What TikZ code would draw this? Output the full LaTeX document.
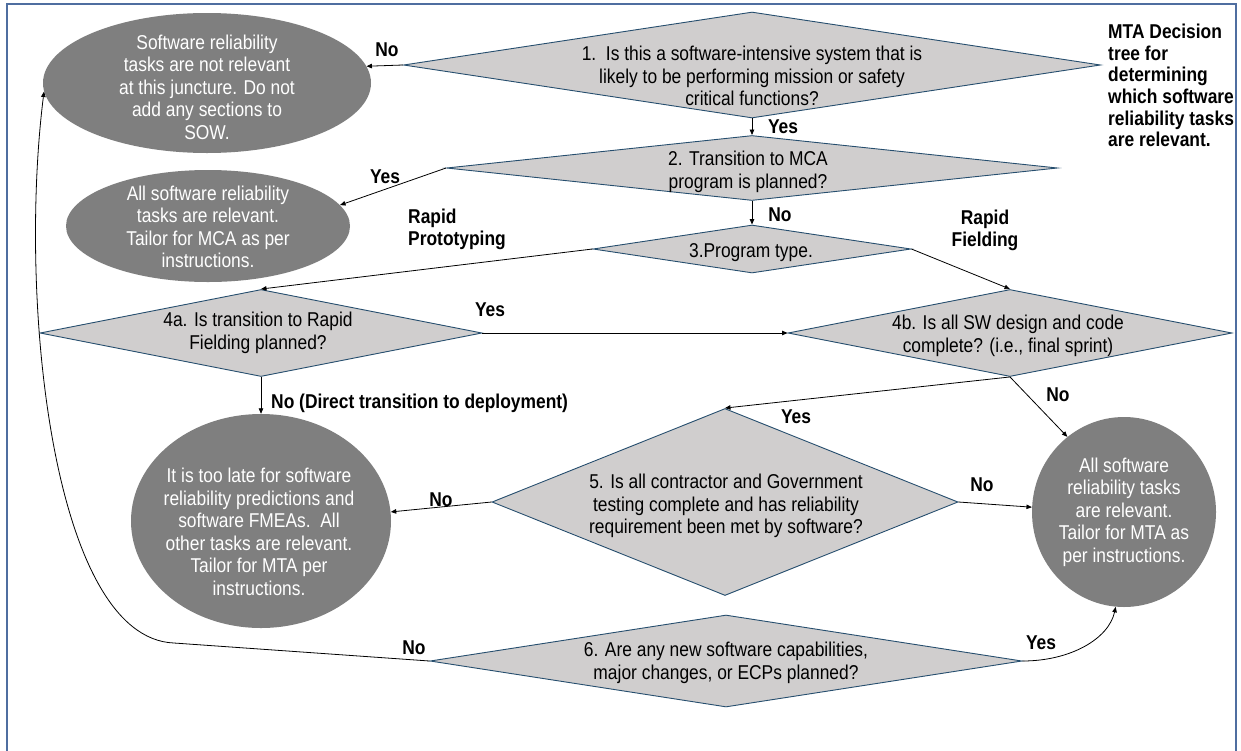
\documentclass[tikz,border=0pt]{standalone}
\usepackage{fontspec}
\setmainfont{Liberation Sans}[FakeStretch=0.87]
\usetikzlibrary{shapes.geometric,arrows.meta}
\definecolor{frameblue}{RGB}{79,110,160}
\definecolor{diafill}{RGB}{208,206,206}
\definecolor{diaedge}{RGB}{38,78,110}
\definecolor{ovalfill}{RGB}{127,127,127}

\begin{document}
\begin{tikzpicture}[x=1pt,y=-1pt,
  dia/.style={shape=diamond, draw=diaedge, fill=diafill, line width=0.9pt, inner sep=0pt},
  oval/.style={shape=ellipse, fill=ovalfill, draw=none, inner sep=0pt},
  txt/.style={align=center, inner sep=0pt, font=\fontsize{20}{22.5}\selectfont},
  wtxt/.style={txt, text=white},
  lbl/.style={inner sep=0pt, font=\bfseries\fontsize{20}{22}\selectfont},
  arr/.style={-{Triangle[length=5.5pt,width=4.5pt]}, line width=0.8pt}]

\useasboundingbox (0,0) rectangle (1241,750);
\draw[frameblue, line width=1.2pt] (7,4) rectangle (1236,780);

% decisions
\node[dia, minimum width=697pt, minimum height=106pt] (d1) at (752,65) {};
\node[dia, minimum width=611pt, minimum height=65pt] (d2) at (752,168) {};
\node[dia, minimum width=318pt, minimum height=48pt] (d3) at (752,249) {};
\node[dia, minimum width=442pt, minimum height=87pt] (d4a) at (261,333) {};
\node[dia, minimum width=444pt, minimum height=87pt] (d4b) at (1010,333) {};
\node[dia, minimum width=466pt, minimum height=187pt] (d5) at (725,502) {};
\node[dia, minimum width=592pt, minimum height=92pt] (d6) at (726,661) {};

\node[txt] (d1t) at (752,76) {1.\ \ Is this a software-intensive system that is\\likely to be performing mission or safety\\critical functions?};
\node[txt] (d2t) at (748,172) {2. Transition to MCA\\program is planned?};
\node[txt] (d3t) at (751,253) {3.Program type.};
\node[txt] (d4at) at (258,333) {4a. Is transition to Rapid\\Fielding planned?};
\node[txt] (d4bt) at (1008,336) {4b. Is all SW design and code\\complete? (i.e., final sprint)};
\node[txt] (d5t) at (726,506) {5. Is all contractor and Government\\testing complete and has reliability\\requirement been met by software?};
\node[txt] (d6t) at (726,663) {6. Are any new software capabilities,\\major changes, or ECPs planned?};

% outcomes
\node[oval, minimum width=328pt, minimum height=140pt] (e1) at (207,83) {};
\node[oval, minimum width=284pt, minimum height=112pt] (e2) at (208,226) {};
\node[oval, minimum width=260pt, minimum height=214pt] (e3) at (261,521) {};
\node[oval, minimum width=184pt, minimum height=190pt] (e4) at (1124,512) {};

\node[wtxt] (e1t) at (207,87) {Software reliability\\tasks are not relevant\\at this juncture. Do not\\add any sections to\\SOW.};
\node[wtxt] (e2t) at (208,227) {All software reliability\\tasks are relevant.\\Tailor for MCA as per\\instructions.};
\node[wtxt] (e3t) at (259,532) {It is too late for software\\reliability predictions and\\software FMEAs.\ \ All\\other tasks are relevant.\\Tailor for MTA per\\instructions.};
\node[wtxt] (e4t) at (1124,512) {All software\\reliability tasks\\are relevant.\\Tailor for MTA as\\per instructions.};

% title
\node[lbl, align=left, anchor=north west, font=\bfseries\fontsize{20}{21.6}\selectfont] (title) at (1108,24) {MTA Decision\\tree for\\determining\\which software\\reliability tasks\\are relevant.};

% connectors
\draw[arr] (d1.west) -- (e1.6);
\draw[arr] (d1.south) -- (d2.north);
\draw[arr] (d2.west) -- (e2.9);
\draw[arr] (d2.south) -- (d3.north);
\draw[arr] (d3.west) -- (d4a.north);
\draw[arr] (d3.east) -- (d4b.north);
\draw[arr] (d4a.east) -- (d4b.west);
\draw[arr] (d4a.south) -- (e3.north);
\draw[arr] (d4b.south) -- (d5.north);
\draw[arr] (d4b.south) -- (e4.127);
\draw[arr] (d5.west) -- (e3.4);
\draw[arr] (d5.east) -- (e4.177);
\draw[arr] (d6.east) .. controls +(48,0) and +(-7,32) .. (e4.265);
\draw[arr] (d6.west) -- (174,643) .. controls (52,638) and (18,300) .. (e1.183);

% branch labels
\node[lbl] (l1) at (387,50) {No};
\node[lbl] (l2) at (783,127) {Yes};
\node[lbl] (l3) at (385,177) {Yes};
\node[lbl] (l4) at (780,215) {No};
\node[lbl, align=left, anchor=west] (l5) at (408,229) {Rapid\\Prototyping};
\node[lbl, align=center] (l6) at (985,230) {Rapid\\Fielding};
\node[lbl] (l7) at (490,310) {Yes};
\node[lbl, anchor=west] (l8) at (271,403) {No (Direct transition to deployment)};
\node[lbl] (l9) at (796,417) {Yes};
\node[lbl] (l10) at (1058,395) {No};
\node[lbl] (l11) at (441,500) {No};
\node[lbl] (l12) at (982,485) {No};
\node[lbl] (l13) at (414,648) {No};
\node[lbl] (l14) at (1041,643) {Yes};
\end{tikzpicture}
\end{document}
